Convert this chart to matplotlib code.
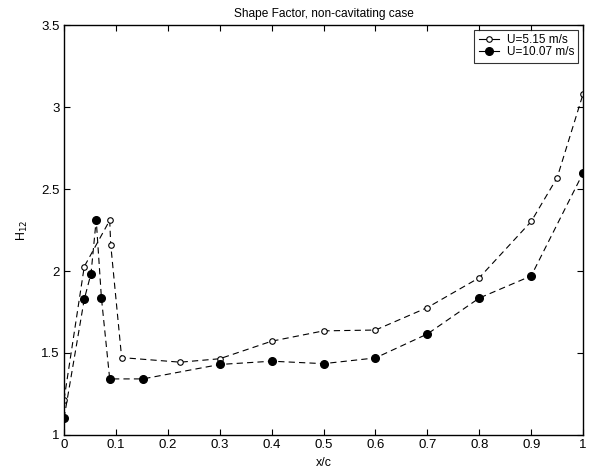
import numpy as np
import matplotlib.pyplot as plt

plt.rcParams['font.family'] = ['Liberation Sans', 'DejaVu Sans']
plt.rcParams['lines.scale_dashes'] = False

# U = 5.15 m/s
x_lo = [0.0, 0.039, 0.088, 0.090, 0.111, 0.224, 0.3, 0.4, 0.5, 0.6, 0.7, 0.8, 0.9, 0.95, 1.0]
h_lo = [1.215, 2.027, 2.309, 2.16, 1.472, 1.444, 1.465, 1.572, 1.635, 1.64, 1.777, 1.959, 2.302, 2.569, 3.08]

# U = 10.07 m/s
x_hi = [0.0, 0.039, 0.052, 0.062, 0.072, 0.088, 0.152, 0.3, 0.4, 0.5, 0.6, 0.7, 0.8, 0.9, 1.0]
h_hi = [1.102, 1.828, 1.984, 2.313, 1.838, 1.342, 1.342, 1.43, 1.45, 1.435, 1.47, 1.616, 1.835, 1.97, 2.598]

xticks = np.arange(0, 1.01, 0.1)
xlabels = ['0', '0.1', '0.2', '0.3', '0.4', '0.5', '0.6', '0.7', '0.8', '0.9', '1']
yticks = [1, 1.5, 2, 2.5, 3, 3.5]
ylabels = ['1', '1.5', '2', '2.5', '3', '3.5']

fig = plt.figure(figsize=(5.95, 4.72), dpi=100)
ax = fig.add_axes([0.1076, 0.0784, 0.8724, 0.8686])

ax.plot(x_lo, h_lo, color='k', lw=0.8, dashes=(4.5, 3), marker='o', ms=4,
        mfc='white', mec='k', mew=0.8, label='U=5.15 m/s')
ax.plot(x_hi, h_hi, color='k', lw=0.8, dashes=(4.5, 3), marker='o', ms=5.5,
        mfc='k', mec='k', label='U=10.07 m/s')

ax.set_xlim(0, 1)
ax.set_ylim(1, 3.5)
ax.set_xticks(xticks)
ax.set_xticklabels(xlabels)
ax.set_yticks(yticks)
ax.set_yticklabels(ylabels)
ax.tick_params(direction='in', top=True, right=True, labelsize=9.5, length=4, width=0.8, pad=3)
for s in ax.spines.values():
    s.set_linewidth(1)

ax.set_title('Shape Factor, non-cavitating case', fontsize=8.6, pad=6)
ax.set_xlabel('x/c', fontsize=8.9, labelpad=4)
ax.set_ylabel('H$_{12}$', fontsize=8.9, labelpad=8)

leg = ax.legend(loc='upper right', fontsize=8.5, frameon=True, fancybox=False,
                edgecolor='k', handlelength=1.7, borderpad=0.35, labelspacing=0.05,
                handletextpad=0.7, borderaxespad=0.4)
leg.get_frame().set_linewidth(0.8)
for h in leg.get_lines():
    h.set_linestyle('-')

fig.savefig('out.png', dpi=100)
